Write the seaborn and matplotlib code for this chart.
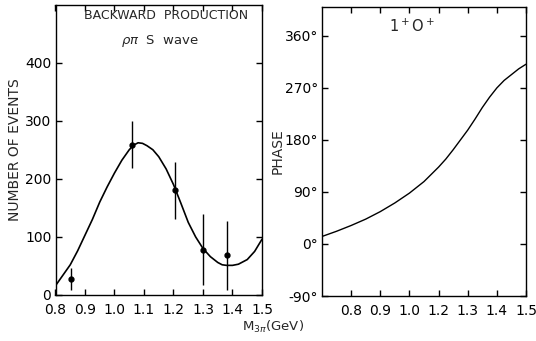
import numpy as np
import pandas as pd
import matplotlib
matplotlib.use("Agg")
import matplotlib.pyplot as plt
import seaborn as sns

# ---- data ----
# left panel: fitted curve (M3pi in GeV, number of events)
fit_mass = [0.80, 0.825, 0.85, 0.875, 0.90, 0.925, 0.95, 0.975, 1.00, 1.025, 1.05, 1.065,
            1.08, 1.095, 1.11, 1.13, 1.15, 1.175, 1.20, 1.225, 1.25, 1.275, 1.30, 1.325,
            1.35, 1.365, 1.38, 1.40, 1.42, 1.45, 1.475, 1.50]
fit_events = [16, 34, 52, 76, 103, 130, 160, 186, 210, 232, 250, 258,
              262, 261, 257, 250, 238, 217, 190, 158, 125, 100, 80, 66,
              56, 52, 51, 51, 53, 61, 75, 96]
# left panel: measured points with errors
pt_mass = [0.852, 1.058, 1.205, 1.301, 1.380]
pt_events = [27, 259, 180, 78, 68]
pt_err = [19, 41, 49, 61, 59]
left_xticks = [0.8, 0.9, 1.0, 1.1, 1.2, 1.3, 1.4, 1.5]
left_xticklabels = ["0.8", "0.9", "1.0", "1.1", "1.2", "1.3", "1.4", "1.5"]
left_yticks = [0, 100, 200, 300, 400]

# right panel: phase curve (positions along the printed axis, phase in degrees)
phase_pos = [0.70, 0.75, 0.80, 0.85, 0.90, 0.95, 1.00, 1.05, 1.10, 1.125, 1.15, 1.175,
             1.20, 1.225, 1.25, 1.275, 1.30, 1.325, 1.35, 1.375, 1.40]
phase_deg = [13, 22, 32, 43, 56, 71, 88, 108, 133, 147, 163, 180,
             197, 216, 236, 254, 270, 283, 293, 303, 311]
right_xticks = [0.8, 0.9, 1.0, 1.1, 1.2, 1.3, 1.4]
right_xticklabels = ["0.8", "0.9", "1.0", "1.2", "1.3", "1.4", "1.5"]
right_yticks = [-90, 0, 90, 180, 270, 360]
right_yticklabels = ["-90°", "0°", "90°", "180°", "270°", "360°"]

sns.set_style("ticks")
plt.rcParams["font.family"] = ["DejaVu Sans"]
plt.rcParams["mathtext.fontset"] = "dejavusans"
plt.rcParams["xtick.direction"] = "in"
plt.rcParams["ytick.direction"] = "in"
plt.rcParams["xtick.top"] = True
plt.rcParams["ytick.right"] = True
plt.rcParams["xtick.color"] = "black"
plt.rcParams["ytick.color"] = "black"

fig = plt.figure(figsize=(5.36, 3.41), dpi=100)
W, H = 536, 341
def box(x0, x1, y0, y1):
    return [x0 / W, 1 - y1 / H, (x1 - x0) / W, (y1 - y0) / H]

ax1 = fig.add_axes(box(55.5, 262, 4.5, 295))
ax2 = fig.add_axes(box(322, 526, 7, 296))

fit_df = pd.DataFrame({"mass": fit_mass, "events": fit_events})
sns.lineplot(data=fit_df, x="mass", y="events", ax=ax1, color="black", lw=1.2, sort=True)
ax1.errorbar(pt_mass, pt_events, yerr=pt_err, fmt="o", color="black", ms=3.5,
             elinewidth=1.0, capsize=0)
ax1.set_xlim(0.8, 1.5)
ax1.set_ylim(0, 500)
ax1.set_xticks(left_xticks)
ax1.set_xticklabels(left_xticklabels)
ax1.set_yticks(left_yticks)
ax1.set_ylabel("NUMBER OF EVENTS", fontsize=10, labelpad=2)
ax1.set_xlabel("")
ax1.text(0.535, 0.962, "BACKWARD  PRODUCTION", transform=ax1.transAxes,
         ha="center", va="center", fontsize=9)
ax1.text(0.505, 0.876, r"$\rho\pi$  S  wave", transform=ax1.transAxes,
         ha="center", va="center", fontsize=9.5)

ph_df = pd.DataFrame({"pos": phase_pos, "phase": phase_deg})
sns.lineplot(data=ph_df, x="pos", y="phase", ax=ax2, color="black", lw=1.0, sort=True)
ax2.set_xlim(0.7, 1.4)
ax2.set_ylim(-90, 410)
ax2.set_xticks(right_xticks)
ax2.set_xticklabels(right_xticklabels)
ax2.set_yticks(right_yticks)
ax2.set_yticklabels(right_yticklabels)
ax2.set_ylabel("PHASE", fontsize=10, labelpad=0)
ax2.set_xlabel("")
ax2.text(0.44, 0.932, r"1$^+$O$^+$", transform=ax2.transAxes,
         ha="center", va="center", fontsize=10.5)

for ax in (ax1, ax2):
    ax.tick_params(axis="both", which="major", direction="in", length=4.5, width=1.0,
                   top=True, right=True, bottom=True, left=True,
                   labelsize=10, colors="black")
    ax.tick_params(axis="x", pad=6)
    ax.tick_params(axis="y", pad=3)
    for s in ax.spines.values():
        s.set_visible(True)
        s.set_linewidth(1.0)
        s.set_color("black")
    ax.grid(False)

fig.text(273 / W, 1 - 327 / H, r"M$_{3\pi}$(GeV)", ha="center", va="center", fontsize=9.5)

fig.savefig("out.png", dpi=100, facecolor="white")
